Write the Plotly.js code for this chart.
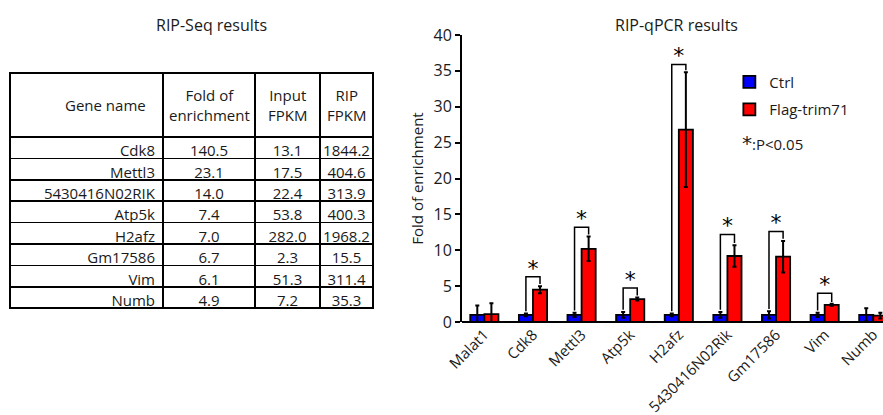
<!DOCTYPE html>
<html><head><meta charset="utf-8">
<script src="https://cdn.plot.ly/plotly-3.0.1.min.js"></script>
<style>body{margin:0;background:#fff}#c{width:883px;height:415px}</style>
</head><body><div id="c"></div>
<script>
// ---- RIP-Seq table data ----
const tblGenes = ["Cdk8","Mettl3","5430416N02RIK","Atp5k","H2afz","Gm17586","Vim","Numb"];
const tblFold = ["140.5","23.1","14.0","7.4","7.0","6.7","6.1","4.9"];
const tblInput = ["13.1","17.5","22.4","53.8","282.0","2.3","51.3","7.2"];
const tblRip = ["1844.2","404.6","313.9","400.3","1968.2","15.5","311.4","35.3"];
const tblHeader = ["Gene name","Fold of<br>enrichment","Input<br>FPKM","RIP<br>FPKM"];

// ---- RIP-qPCR data ----
const genes = ["Malat1","Cdk8","Mettl3","Atp5k","H2afz","5430416N02Rik","Gm17586","Vim","Numb"];
const ctrl = [1.0,1.0,1.0,1.0,1.0,1.0,1.0,1.0,1.0];
const ctrlErr = [1.3,0.2,0.3,0.4,0.2,0.4,0.5,0.3,0.9];
const flag = [1.1,4.5,10.2,3.2,26.8,9.2,9.1,2.4,0.9];
const flagErr = [1.5,0.5,1.7,0.2,8.0,1.5,2.2,0.15,0.4];
// significance brackets (gene index, top height, left leg bottom, right leg bottom)
const sigIdx = [1,2,3,4,5,6,7];
const sigTop = [6.3,13.2,4.75,35.9,12.2,12.6,4.0];
const sigLeft = [1.5,1.6,1.7,1.5,1.7,1.8,1.6];
const sigRight = [5.3,12.2,3.7,35.1,11.0,11.6,2.8];
const yTicks = [0,5,10,15,20,25,30,35,40];

const FONT = "Open Sans, Noto Sans, sans-serif";
const TXT = "#1a1a1a";
const bargap = 0.42;
const off = (1 - bargap) / 4;
const xs = genes.map((g,i)=>i);

// table geometry (paper fractions; margins are 0 left/right)
const colEdges = [10,163,255,320,373];
const colW = colEdges.slice(1).map((e,i)=>e-colEdges[i]);

const traces = [];
traces.push({
  type:"table", domain:{x:[colEdges[0]/883, colEdges[4]/883], y:[0.04,0.8676]},
  columnwidth:colW,
  header:{values:tblHeader.map(()=>""), height:64, line:{color:"#000",width:1.5}, fill:{color:"#fff"},
    font:{family:FONT,size:15,color:TXT}},
  cells:{values:[tblGenes,tblFold,tblInput,tblRip], align:["right","center","center","center"],
    height:21.4, line:{color:"#000",width:1.5}, fill:{color:"#fff"},
    font:{family:FONT,size:15,color:TXT}}
});
traces.push({type:"bar", name:"Ctrl", x:xs, y:ctrl, legendgroup:"a",
  marker:{color:"#0000ff", line:{color:"#000",width:1.8}},
  error_y:{type:"data", array:ctrlErr, visible:true, color:"#000", thickness:2, width:2}});
traces.push({type:"bar", name:"Flag-trim71", x:xs, y:flag, legendgroup:"b",
  marker:{color:"#ff0000", line:{color:"#000",width:1.8}},
  error_y:{type:"data", array:flagErr, visible:true, color:"#000", thickness:2, width:2}});
sigIdx.forEach((gi,k)=>{
  traces.push({type:"scatter", mode:"lines", showlegend:false, hoverinfo:"skip",
    x:[gi-off, gi-off, gi+off, gi+off], y:[sigLeft[k], sigTop[k], sigTop[k], sigRight[k]],
    line:{color:"#000", width:1.5}});
});
traces.push({type:"scatter", mode:"text", showlegend:false, hoverinfo:"skip",
  x:sigIdx, y:sigTop.map(v=>v-0.6), text:sigIdx.map(()=>"*"), textposition:"top center",
  textfont:{family:"DejaVu Sans", size:22, color:"#000"}, cliponaxis:false});

// header labels placed over the table header row
const hdrX = [148, (colEdges[1]+colEdges[2])/2, (colEdges[2]+colEdges[3])/2, (colEdges[3]+colEdges[4])/2];
const hdrAnn = tblHeader.map((t,i)=>({xref:"paper", yref:"paper", x:hdrX[i]/883, y:(322-105)/287,
  xanchor:i===0?"right":"center", yanchor:"middle", showarrow:false, text:t,
  font:{family:FONT,size:15,color:TXT}}));

const layout = {
  width:883, height:415, margin:{l:0,r:0,t:35,b:93},
  paper_bgcolor:"#fff", plot_bgcolor:"#fff",
  font:{family:FONT, color:TXT},
  barmode:"group", bargap:bargap, bargroupgap:0,
  showlegend:true,
  legend:{x:0.826, y:0.893, xanchor:"left", yanchor:"top", font:{family:FONT,size:15,color:TXT},
    traceorder:"grouped", tracegroupgap:5, itemwidth:30, bgcolor:"rgba(0,0,0,0)"},
  xaxis:{domain:[0.5232,1], range:[-0.46,8.2], tickmode:"array", tickvals:xs, ticktext:genes,
    tickangle:-45, tickfont:{family:FONT,size:15,color:TXT}, showgrid:false, zeroline:false,
    showline:false, ticks:""},
  yaxis:{range:[0,40], tickvals:yTicks, ticks:"outside", ticklen:5, tickwidth:2, tickcolor:"#000",
    showline:true, linecolor:"#000", linewidth:2, showgrid:false, zeroline:true, zerolinecolor:"#000", zerolinewidth:2,
    tickfont:{family:FONT,size:16,color:TXT},
    title:{text:"Fold of enrichment", font:{family:FONT,size:15,color:TXT}, standoff:6}},
  annotations:hdrAnn.concat([
    {xref:"paper", yref:"paper", x:211/883, y:1, yshift:10, yanchor:"middle", xanchor:"center",
      showarrow:false, text:"RIP-Seq results", font:{family:FONT,size:16,color:TXT}},
    {xref:"paper", yref:"paper", x:0.766, y:1, yshift:10, yanchor:"middle", xanchor:"center",
      showarrow:false, text:"RIP-qPCR results", font:{family:FONT,size:16,color:TXT}},
    {xref:"paper", yref:"paper", x:0.838, y:0.625, xanchor:"left", yanchor:"middle",
      showarrow:false, text:"<span style='font-family:DejaVu Sans;font-size:20px'>*</span>:P<0.05",
      font:{family:FONT,size:15,color:TXT}}
  ])
};
Plotly.newPlot("c", traces, layout, {displayModeBar:false, staticPlot:true});
</script></body></html>
